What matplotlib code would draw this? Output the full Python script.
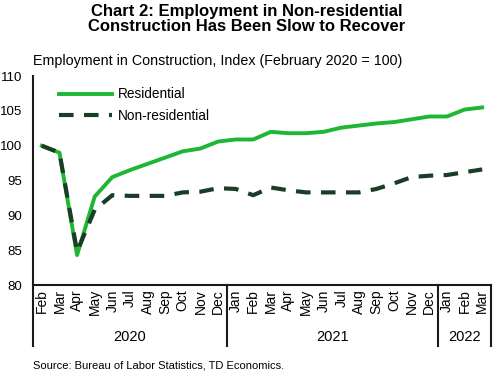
import matplotlib
matplotlib.use("Agg")
import matplotlib.pyplot as plt

plt.rcParams['font.family'] = ['Liberation Sans', 'DejaVu Sans']

months = ["Feb", "Mar", "Apr", "May", "Jun", "Jul", "Aug", "Sep", "Oct", "Nov", "Dec",
          "Jan", "Feb", "Mar", "Apr", "May", "Jun", "Jul", "Aug", "Sep", "Oct", "Nov", "Dec",
          "Jan", "Feb", "Mar"]
years = ["2020", "2021", "2022"]
year_counts = [11, 12, 3]

residential = [100.0, 99.0, 84.3, 92.7, 95.5, 96.5, 97.4, 98.3, 99.2, 99.6, 100.6,
               100.9, 100.9, 102.0, 101.8, 101.8, 102.0, 102.6, 102.9, 103.2, 103.4, 103.8, 104.2,
               104.2, 105.2, 105.5]
non_residential = [100.0, 99.0, 84.8, 90.8, 92.9, 92.8, 92.8, 92.8, 93.3, 93.4, 93.9,
                   93.8, 92.9, 94.0, 93.6, 93.3, 93.3, 93.3, 93.3, 93.8, 94.6, 95.5, 95.7,
                   95.8, 96.2, 96.6]

green = '#1DB733'
dark = '#1B3D27'

fig = plt.figure(figsize=(4.93, 3.75), dpi=100)
ax = fig.add_axes([0.067, 0.24, 0.929, 0.557])

x = list(range(len(months)))
ax.plot(x, residential, color=green, lw=2.8, label="Residential")
ax.plot(x, non_residential, color=dark, lw=3.0, ls=(0, (3.5, 2.5)), label="Non-residential")

ax.set_xlim(-0.5, len(months) - 0.5)
ax.set_ylim(80, 110)
ax.set_yticks(range(80, 111, 5))
ax.tick_params(axis='y', length=0, labelsize=9.5, pad=8)
ax.set_xticks(x)
ax.set_xticklabels(months, rotation=90, fontsize=10)
ax.tick_params(axis='x', length=0, pad=3)

for s in ['top', 'right']:
    ax.spines[s].set_visible(False)
for s in ['left', 'bottom']:
    ax.spines[s].set_color('#1a1a1a')
    ax.spines[s].set_linewidth(1.5)

# year separators and labels
trans = ax.get_xaxis_transform()
start = -0.5
for yr, n in zip(years, year_counts):
    end = start + n
    ax.plot([start, start], [0, -0.29], color='#1a1a1a', lw=1.5, transform=trans, clip_on=False)
    ax.text((start + end) / 2, -0.25, yr, transform=trans, ha='center', va='center', fontsize=10.5)
    start = end
ax.plot([start, start], [0, -0.29], color='#1a1a1a', lw=1.5, transform=trans, clip_on=False)

leg = ax.legend(loc='upper left', bbox_to_anchor=(0.03, 1.005), frameon=False, fontsize=9.8,
                handlelength=3.9, handletextpad=0.4, labelspacing=0.55)

fig.text(0.5, 0.99, "Chart 2: Employment in Non-residential\nConstruction Has Been Slow to Recover",
         ha='center', va='top', fontsize=12, fontweight='bold', linespacing=1.05)
fig.text(0.067, 0.838, "Employment in Construction, Index (February 2020 = 100)",
         ha='left', va='center', fontsize=10.3)
fig.text(0.067, 0.025, "Source: Bureau of Labor Statistics, TD Economics.",
         ha='left', va='center', fontsize=8)

fig.savefig("out.png", dpi=100)
